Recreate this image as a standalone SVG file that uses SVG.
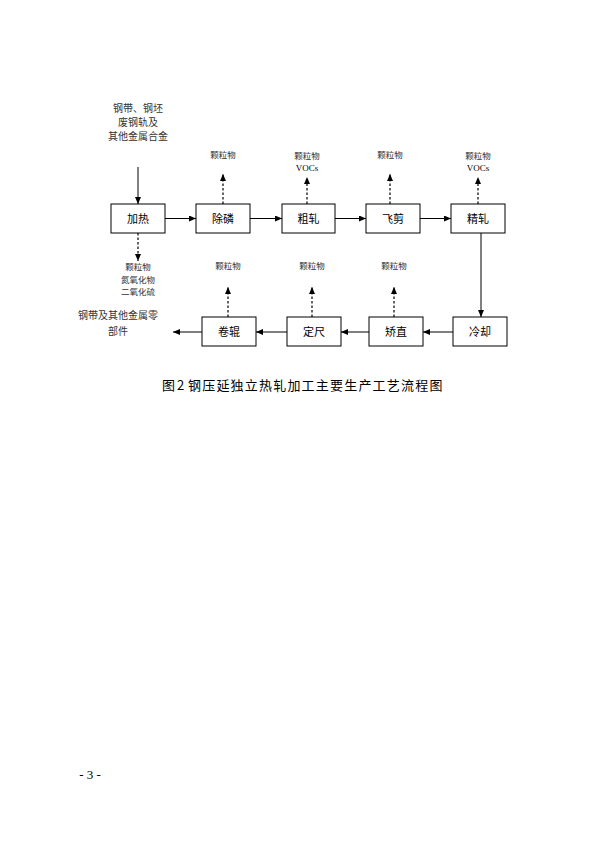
<svg xmlns="http://www.w3.org/2000/svg" width="600" height="848" viewBox="0 0 600 848">
<style>
.box{fill:#fff;stroke:#000;stroke-width:1}
.ln{fill:none;stroke:#000;stroke-width:1}
.ds{fill:none;stroke:#000;stroke-width:1.2;stroke-dasharray:2.5,2}
.t{font-family:"Noto Sans CJK SC","Liberation Serif",serif;fill:#000;text-anchor:middle}
.bl{font-size:11px}
.sm{font-size:8.5px;fill:#333}
.in{font-size:10px;fill:#333}
.v{font-family:"Liberation Serif",serif;font-size:9px;fill:#000;text-anchor:middle}
.cap{font-family:"Noto Sans CJK SC","Liberation Serif",serif;font-size:13px;fill:#000}
</style>
<defs>
<marker id="ah" markerWidth="7" markerHeight="6" refX="7" refY="3" orient="auto" markerUnits="userSpaceOnUse">
<path d="M0,0 L7,3 L0,6 Z" fill="#000"/>
</marker>
</defs>
<rect width="600" height="848" fill="#fff"/>
<g id="connectors">
<line class="ln" x1="138" y1="167" x2="138" y2="204" marker-end="url(#ah)"/>
<line class="ln" x1="165" y1="218.5" x2="196" y2="218.5" marker-end="url(#ah)"/>
<line class="ln" x1="250" y1="218.5" x2="282" y2="218.5" marker-end="url(#ah)"/>
<line class="ln" x1="335" y1="218.5" x2="366" y2="218.5" marker-end="url(#ah)"/>
<line class="ln" x1="420" y1="218.5" x2="451" y2="218.5" marker-end="url(#ah)"/>
<line class="ln" x1="481" y1="233" x2="481" y2="317" marker-end="url(#ah)"/>
<line class="ln" x1="453" y1="332" x2="423" y2="332" marker-end="url(#ah)"/>
<line class="ln" x1="369" y1="332" x2="341" y2="332" marker-end="url(#ah)"/>
<line class="ln" x1="287" y1="332" x2="256" y2="332" marker-end="url(#ah)"/>
<line class="ln" x1="202" y1="332" x2="173" y2="332" marker-end="url(#ah)"/>
<line class="ds" x1="138" y1="233" x2="138" y2="261" marker-end="url(#ah)"/>
<line class="ds" x1="223" y1="204" x2="223" y2="174" marker-end="url(#ah)"/>
<line class="ds" x1="307" y1="204" x2="307" y2="177" marker-end="url(#ah)"/>
<line class="ds" x1="390" y1="204" x2="390" y2="174" marker-end="url(#ah)"/>
<line class="ds" x1="478" y1="204" x2="478" y2="177" marker-end="url(#ah)"/>
<line class="ds" x1="228" y1="317" x2="228" y2="287" marker-end="url(#ah)"/>
<line class="ds" x1="312" y1="317" x2="312" y2="287" marker-end="url(#ah)"/>
<line class="ds" x1="394" y1="317" x2="394" y2="287" marker-end="url(#ah)"/>
</g>
<g id="n-heat"><rect class="box" x="111" y="204" width="54" height="29"/><text class="t bl" x="138" y="222.5">加热</text></g>
<g id="n-dephos"><rect class="box" x="196" y="204" width="54" height="29"/><text class="t bl" x="223" y="222.5">除磷</text></g>
<g id="n-rough"><rect class="box" x="282" y="204" width="53" height="29"/><text class="t bl" x="308.5" y="222.5">粗轧</text></g>
<g id="n-shear"><rect class="box" x="366" y="204" width="54" height="29"/><text class="t bl" x="393" y="222.5">飞剪</text></g>
<g id="n-finish"><rect class="box" x="451" y="204" width="54" height="29"/><text class="t bl" x="478" y="222.5">精轧</text></g>
<g id="n-cool"><rect class="box" x="453" y="317" width="54" height="29"/><text class="t bl" x="480" y="335.5">冷却</text></g>
<g id="n-straight"><rect class="box" x="369" y="317" width="54" height="29"/><text class="t bl" x="396" y="335.5">矫直</text></g>
<g id="n-size"><rect class="box" x="287" y="317" width="54" height="29"/><text class="t bl" x="314" y="335.5">定尺</text></g>
<g id="n-coil"><rect class="box" x="202" y="317" width="54" height="29"/><text class="t bl" x="229" y="335.5">卷辊</text></g>
<g id="input-label">
<text class="t in" x="138" y="112">钢带、钢坯</text>
<text class="t in" x="138" y="126">废钢轨及</text>
<text class="t in" x="138" y="140">其他金属合金</text>
</g>
<g id="emissions">
<text class="t sm" x="223" y="158">颗粒物</text>
<text class="t sm" x="307" y="159">颗粒物</text>
<text class="v" x="307" y="171">VOCs</text>
<text class="t sm" x="390" y="158">颗粒物</text>
<text class="t sm" x="478" y="159">颗粒物</text>
<text class="v" x="478" y="171">VOCs</text>
<text class="t sm" x="138" y="270">颗粒物</text>
<text class="t sm" x="138" y="283">氮氧化物</text>
<text class="t sm" x="138" y="295">二氧化硫</text>
<text class="t sm" x="228" y="269">颗粒物</text>
<text class="t sm" x="312" y="269">颗粒物</text>
<text class="t sm" x="394" y="269">颗粒物</text>
</g>
<g id="output-label">
<text class="t in" x="118" y="318.5">钢带及其他金属零</text>
<text class="t in" x="118" y="335">部件</text>
</g>
<text class="cap" x="162" y="390">图</text>
<text class="cap" x="177" y="390" font-family="Liberation Serif, serif">2</text>
<text class="cap" x="188" y="390" letter-spacing="1.2">钢压延独立热轧加工主要生产工艺流程图</text>
<text x="90" y="779" font-family="Liberation Serif, serif" font-size="13px" text-anchor="middle">- 3 -</text>
</svg>
